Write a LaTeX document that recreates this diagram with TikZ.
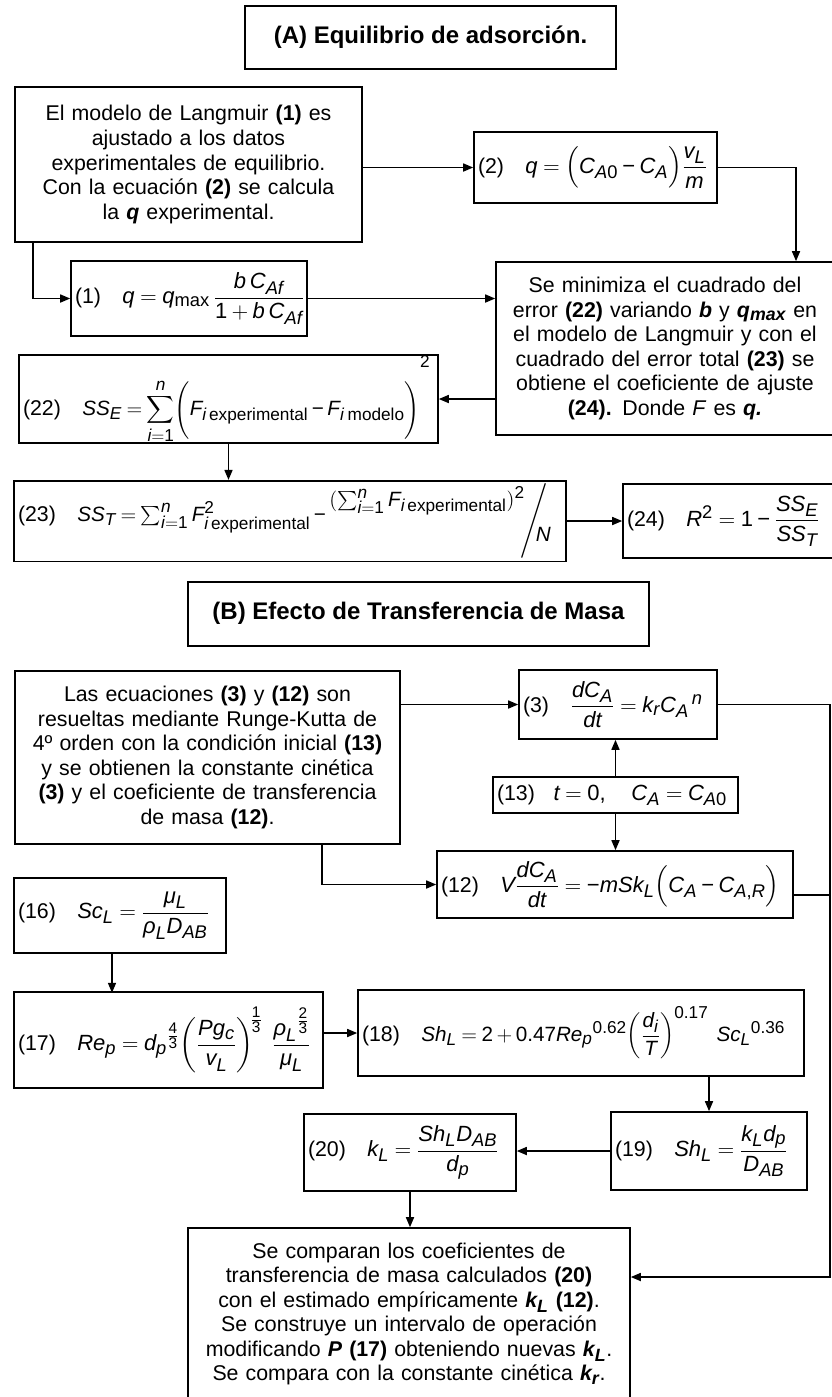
\RequirePackage{fix-cm}
\documentclass[tikz,border=0pt]{standalone}
\usepackage{amsmath}
\usepackage{graphicx}
\usepackage{fontspec}
\setmainfont{Liberation Sans}
\usepackage[italic]{mathastext}
\usetikzlibrary{arrows.meta}
\newcommand{\bdyfont}{\fontsize{16}{18.4}\selectfont}
\newcommand{\ttlfont}{\fontsize{18}{20.7}\selectfont\bfseries}
\newcommand{\eqf}{\fontsize{16.5}{19}\selectfont\thickmuskip=4.5mu plus 2mu\medmuskip=3.5mu plus 1mu}
\newcommand{\eqs}{\fontsize{15.5}{18}\selectfont\thickmuskip=4mu plus 2mu\medmuskip=3mu plus 1mu}
\newcommand{\D}[1]{\mathrm{#1}}
\newcommand{\mns}{\mathbin{\text{−}}}
\newcommand{\gmu}{\text{\itshape μ}}
\newcommand{\grho}{\text{\itshape ρ}}
\begin{document}
\begin{tikzpicture}[x=0.75pt,y=-0.75pt,
 box/.style={draw,line width=1.2pt,inner sep=0pt},
 txt/.style={box,align=center,font=\bdyfont},
 eqbox/.style={box,align=left,inner xsep=3pt,font=\bdyfont},
 ttl/.style={box,align=center,font=\ttlfont},
 arr/.style={line width=1.2pt,-{Triangle[length=7.5pt,width=6pt]}},
 ln/.style={line width=1.2pt}]
\useasboundingbox (0,0) rectangle (832,1397);
\clip (0,0) rectangle (832,1397);

% ---------- (A) ----------
\node[ttl, minimum width=278.25pt, minimum height=47.25pt] (tA) at (430.5,37.5)
  {\raisebox{2pt}{(A) Equilibrio de adsorción.}};

\node[txt, text width=260.25pt, minimum height=116.25pt] (a1) at (188.5,164.5)
  {El modelo de Langmuir \textbf{(1)} es\\ ajustado a los datos\\ experimentales de equilibrio.\\ Con la ecuación \textbf{(2)} se calcula\\ la \textbf{\textit{q}} experimental.};

\node[eqbox, text width=176.25pt, minimum height=53.25pt] (a2) at (595.5,167.5)
  {\mbox{(2)\hspace{16pt}{\eqf$q = \Bigl(C_{A\D{0}} \mns C_{A}\Bigr)\dfrac{v_L}{m}$}}};

\node[eqbox, text width=171pt, minimum height=56.25pt] (n1) at (189,298.5)
  {\mbox{(1)\hspace{16pt}{\eqf$q = q_{\mathrm{max}}\,\dfrac{b\,C_{Af}}{\D{1}+b\,C_{Af}}$}}};

\node[txt, text width=253.5pt, minimum height=129.75pt] (a4) at (665,348.5)
  {Se minimiza el cuadrado del\\ error \textbf{(22)} variando \textbf{\textit{b}} y \textbf{\textit{q\textsubscript{max}}} en\\ el modelo de Langmuir y con el\\ cuadrado del error total \textbf{(23)} se\\ obtiene el coeficiente de ajuste\\ \textbf{(24).} Donde \textit{F} es \textbf{\textit{q.}}};

\node[eqbox, text width=308.25pt, minimum height=66pt] (n22) at (228.5,399)
  {\mbox{(22)\hspace{16pt}{\eqs$SS_E = \displaystyle\sum_{i=\D{1}}^{n}\Biggl(F_{i\,\mathrm{experimental}} \mns F_{i\;\mathrm{modelo}}\Biggr)^{\raisebox{14pt}{$\scriptstyle\D{2}$}}$}}};

\node[eqbox, text width=408pt, minimum height=57pt] (n23) at (290,521)
  {\mbox{(23)\hspace{16pt}{\eqs$SS_T = \sum_{i=\D{1}}^{n}F^{\D{2}}_{i\,\mathrm{experimental}} \mns {}$\raisebox{11pt}{$(\sum_{i=\D{1}}^{n}F_{i\,\mathrm{experimental}})^{\D{2}}$}\hspace{-3pt}\raisebox{-5pt}{\scalebox{1.1}[1.3]{$\Bigg/$}}\hspace{-9pt}\raisebox{-15pt}{$N$}}}};

\node[eqbox, text width=152.25pt, minimum height=55.5pt] (n24) at (728.5,521)
  {\mbox{(24)\hspace{16pt}{\eqf$R^{\D{2}} = \D{1} \mns \dfrac{SS_E}{SS_T}$}}};

% ---------- (B) ----------
\node[ttl, minimum width=345.75pt, minimum height=48pt] (tB) at (418.5,614)
  {\raisebox{4.5pt}{(B) Efecto de Transferencia de Masa}};

\node[txt, text width=288.75pt, minimum height=129.75pt] (b1) at (207.5,757.5)
  {Las ecuaciones \textbf{(3)} y \textbf{(12)} son\\ resueltas mediante Runge-Kutta de\\ 4º orden con la condición inicial \textbf{(13)}\\ y se obtienen la constante cinética\\ \textbf{(3)} y el coeficiente de transferencia\\ de masa \textbf{(12)}.};

\node[eqbox, text width=142.5pt, minimum height=51.75pt] (n3) at (618,704.5)
  {\mbox{(3)\hspace{16pt}{\eqf$\dfrac{dC_A}{dt} = k_r C_A{}^{\,n}$}}};

\node[eqbox, text width=177.75pt, minimum height=27pt] (n13) at (615.5,795)
  {\mbox{(13)\hspace{14pt}{\eqf$t = \D{0},\quad C_A = C_{A\D{0}}$}}};

\node[eqbox, text width=261pt, minimum height=50.25pt] (n12) at (615,884.5)
  {\mbox{(12)\hspace{16pt}{\eqf$V\dfrac{dC_A}{dt} = \mns mSk_L\Bigl(C_A \mns C_{A,R}\Bigr)$}}};

\node[eqbox, text width=153pt, minimum height=56.25pt] (n16) at (120,915.5)
  {\mbox{(16)\hspace{16pt}{\eqf$Sc_L = \dfrac{\gmu_L}{\grho_L D_{AB}}$}}};

\node[eqbox, text width=225.75pt, minimum height=72pt] (n17) at (168.5,1040)
  {\mbox{(17)\hspace{16pt}{\eqf$Re_p = d_p{}^{\frac{\D{4}}{\D{3}}}\!\left(\dfrac{Pg_c}{v_L}\right)^{\!\frac{\D{1}}{\D{3}}}\;\dfrac{\grho_L{}^{\frac{\D{2}}{\D{3}}}}{\gmu_L}$}}};

\node[eqbox, text width=328.5pt, minimum height=64.5pt] (n18) at (581,1033)
  {\mbox{(18)\hspace{16pt}{\eqs$Sh_L = \D{2} + \D{0.47}Re_p{}^{\D{0.62}}\!\left(\dfrac{d_i}{T}\right)^{\D{0.17}}\;Sc_L{}^{\D{0.36}}$}}};

\node[eqbox, text width=141pt, minimum height=58.5pt] (n19) at (709,1151)
  {\mbox{(19)\hspace{16pt}{\eqf$Sh_L = \dfrac{k_L d_p}{D_{AB}}$}}};

\node[eqbox, text width=153pt, minimum height=57.75pt] (n20) at (410,1152.5)
  {\mbox{(20)\hspace{16pt}{\eqf$k_L = \dfrac{Sh_L D_{AB}}{d_p}$}}};

\node[txt, text width=331.5pt, minimum height=129pt] (fin) at (409,1314)
  {Se comparan los coeficientes de\\ transferencia de masa calculados \textbf{(20)}\\ con el estimado empíricamente \textbf{\textit{k\textsubscript{L}}} \textbf{(12)}.\\ Se construye un intervalo de operación\\ modificando \textbf{\textit{P}} \textbf{(17)} obteniendo nuevas \textbf{\textit{k\textsubscript{L}}}.\\ Se compara con la constante cinética \textbf{\textit{k\textsubscript{r}}}.};

% ---------- connectors ----------
\coordinate (rl) at (830,1277);
\draw[arr] (a1.east |- a2.west) -- (a2.west);
\draw[arr] (a2.east) -| ([xshift=98.25pt]a4.north);
\draw[arr] ([xshift=14.25pt]a1.south west) |- (n1.west);
\draw[arr] (n1.east) -- (n1.east -| a4.west);
\draw[arr] (a4.west |- n22.east) -- (n22.east);
\draw[arr] (n22.south) -- (n22.south |- n23.north);
\draw[arr] (n23.east) -- (n23.east -| n24.west);
\draw[arr] (b1.east |- n3.west) -- (n3.west);
\draw[arr] (n13.north) -- (n13.north |- n3.south);
\draw[arr] (n13.south) -- (n13.south |- n12.north);
\draw[arr] ([xshift=-59.25pt]b1.south east) |- (n12.west);
\draw[arr] (n3.east) -| (rl) -- (rl -| fin.east);
\draw[ln] ([yshift=-8pt]n12.east) -- ++(37,0);
\draw[arr] ([xshift=-6pt]n16.south) -- ++(0,39);
\draw[arr] (n17.east |- n18.west) -- (n18.west);
\draw[arr] (n19.north |- n18.south) -- (n19.north);
\draw[arr] (n19.west) -- (n19.west -| n20.east);
\draw[arr] (n20.south) -- (n20.south |- fin.north);
\end{tikzpicture}
\end{document}
